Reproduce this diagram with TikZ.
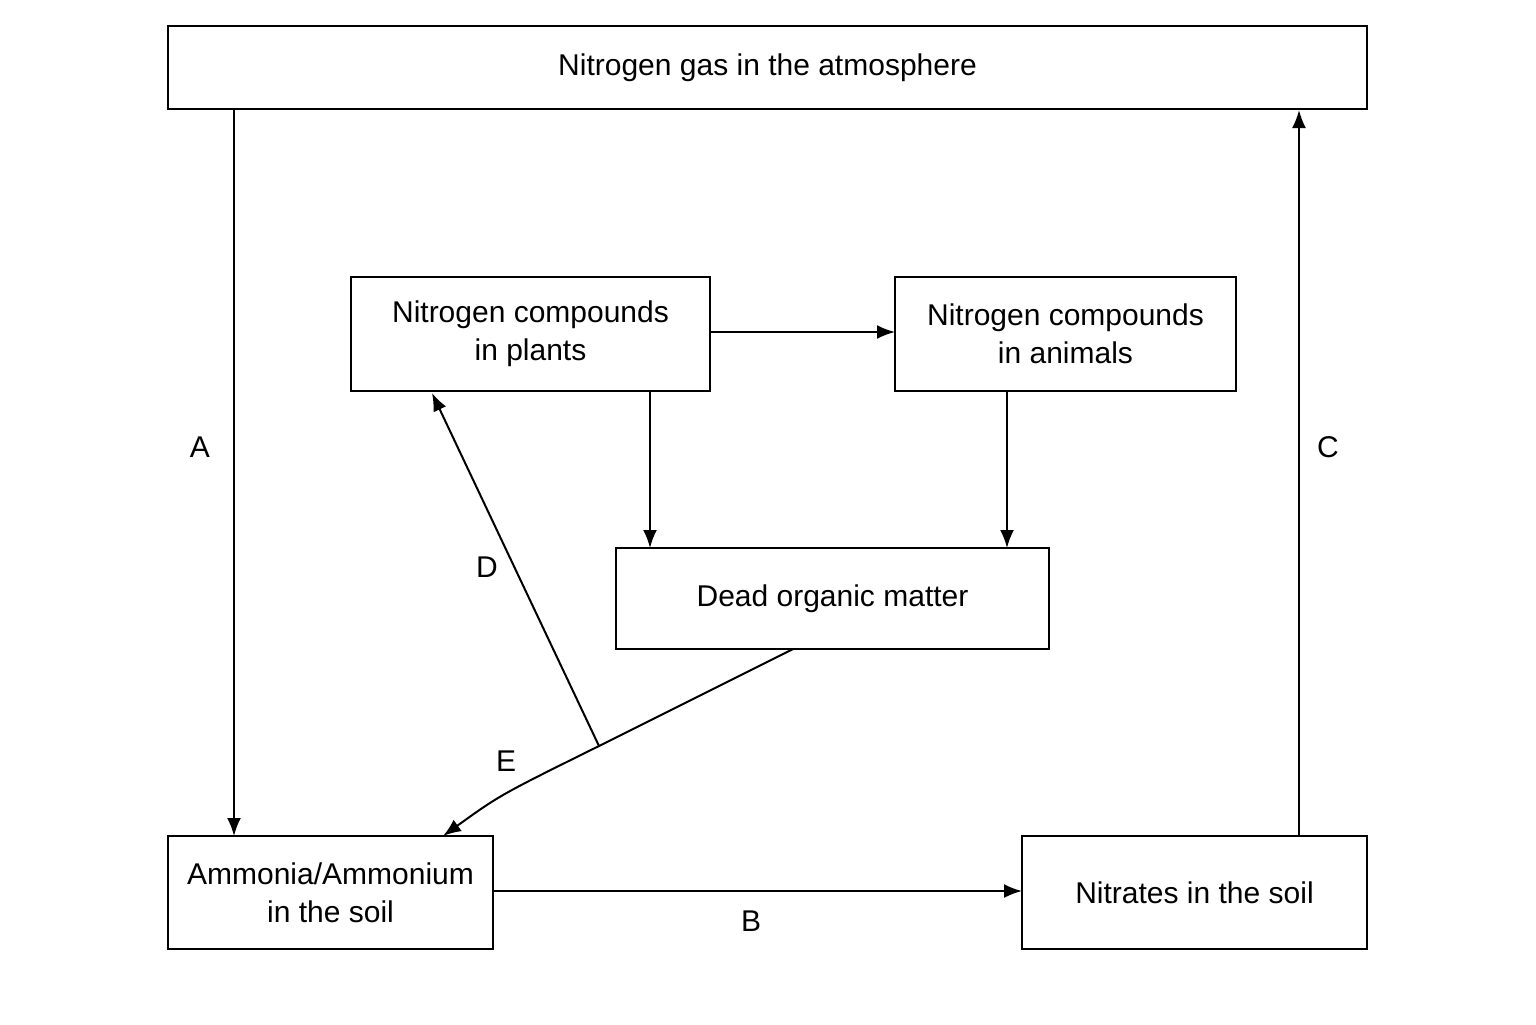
\documentclass[tikz,border=0pt]{standalone}
\usepackage{fontspec}
\setmainfont{Liberation Sans}
\usetikzlibrary{arrows.meta}
\begin{document}
\begin{tikzpicture}[x=0.5pt,y=-0.5pt,
  box/.style={draw,line width=1pt,inner sep=0pt,align=center,font=\fontsize{15}{19}\selectfont},
  arr/.style={line width=1pt,-{Latex[length=9pt,width=7pt]}},
  lbl/.style={font=\fontsize{15}{18}\selectfont}]
\useasboundingbox (0,0) rectangle (1536,1024);
\node[box,minimum width=599.5pt,minimum height=41.5pt] (atm) at (767.5,67.5) {Nitrogen gas in the atmosphere};
\node[box,minimum width=179.5pt,minimum height=57pt] (pl) at (530.5,334) {Nitrogen compounds\\in plants};
\node[box,minimum width=170.5pt,minimum height=57pt] (an) at (1065.5,334) {Nitrogen compounds\\in animals};
\node[box,minimum width=216.5pt,minimum height=50.5pt] (dead) at (832.5,598.5) {Dead organic matter};
\node[box,minimum width=162.5pt,minimum height=56.5pt] (amm) at (330.5,892.5) {Ammonia/Ammonium\\in the soil};
\node[box,minimum width=172.5pt,minimum height=56.5pt] (nit) at (1194.5,892.5) {Nitrates in the soil};
\coordinate (a1) at (234,109); \coordinate (a2) at (234,836);
\coordinate (c1) at (1299,836); \coordinate (c2) at (1299,110);
\coordinate (b1) at (493,891); \coordinate (b2) at (1022,891);
\coordinate (p1) at (710,332); \coordinate (p2) at (895,332);
\coordinate (pd1) at (650,391); \coordinate (pd2) at (650,548);
\coordinate (ad1) at (1007,391); \coordinate (ad2) at (1007,548);
\coordinate (e1) at (793,649); \coordinate (j) at (599,746); \coordinate (e2) at (443,836);
\coordinate (d2) at (432,393);
\draw[arr] (a1) -- (a2);
\draw[arr] (c1) -- (c2);
\draw[arr] (b1) -- (b2);
\draw[arr] (p1) -- (p2);
\draw[arr] (pd1) -- (pd2);
\draw[arr] (ad1) -- (ad2);
\draw[arr] (e1) -- (j) .. controls (500,795) .. (e2);
\draw[arr] (j) -- (d2);
\node[lbl] (lA) at (200,447) {A};
\node[lbl] (lC) at (1328,447) {C};
\node[lbl] (lB) at (751,921) {B};
\node[lbl] (lD) at (487,567) {D};
\node[lbl] (lE) at (506,761) {E};
\end{tikzpicture}
\end{document}
